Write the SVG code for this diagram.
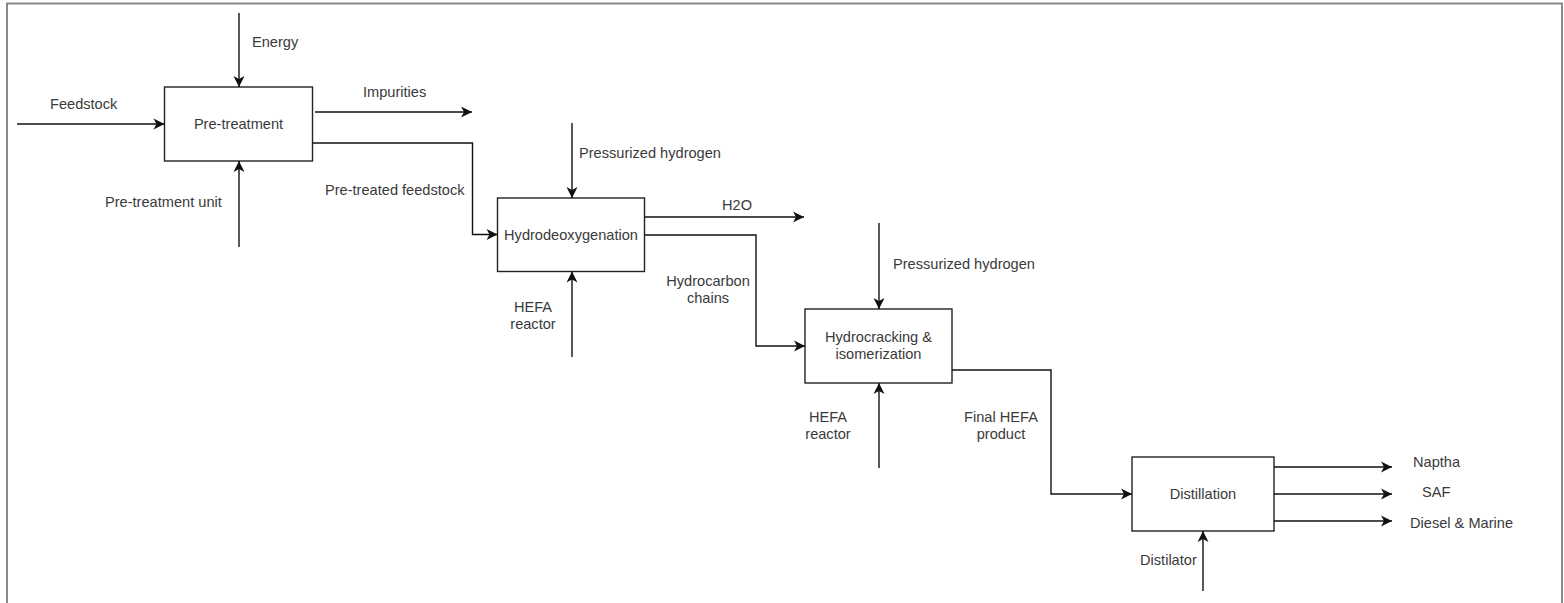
<svg xmlns="http://www.w3.org/2000/svg" width="1564" height="603" viewBox="0 0 1564 603">
  <style>
    .box { fill: #ffffff; stroke: #222222; stroke-width: 1.4; }
    .flow { fill: none; stroke: #111111; stroke-width: 1.4; marker-end: url(#arrow); }
    text { font-family: "Liberation Sans", Arial, Helvetica, sans-serif; font-size: 14.6px; fill: #3a3a3a; }
    .c { text-anchor: middle; }
  </style>
  <defs>
    <marker id="arrow" markerUnits="userSpaceOnUse" markerWidth="14" markerHeight="14" refX="11" refY="5.5" orient="auto" overflow="visible">
      <path d="M0,0 L11,5.5 L0,11 L3,5.5 Z" fill="#111111"/>
    </marker>
  </defs>

  <rect width="1564" height="603" fill="#ffffff"/>
  <!-- page frame -->
  <rect x="7" y="3.5" width="1555" height="610" fill="none" stroke="#8a8a8a" stroke-width="2"/>

  <!-- process steps -->
  <g id="pre-treatment">
    <rect class="box" x="164.5" y="87" width="148" height="74"/>
    <text class="c" x="238.5" y="128.5">Pre-treatment</text>
  </g>
  <g id="hydrodeoxygenation">
    <rect class="box" x="497.5" y="198" width="147" height="73.5"/>
    <text class="c" x="571" y="239.5">Hydrodeoxygenation</text>
  </g>
  <g id="hydrocracking">
    <rect class="box" x="805" y="309" width="147" height="74"/>
    <text class="c" x="878.5" y="342">Hydrocracking &amp;</text>
    <text class="c" x="878.5" y="359">isomerization</text>
  </g>
  <g id="distillation">
    <rect class="box" x="1132" y="457" width="142" height="74"/>
    <text class="c" x="1203" y="498.5">Distillation</text>
  </g>

  <!-- flows between and around the steps -->
  <g id="connectors">
    <path class="flow" d="M17,124 H164.5"/>
    <path class="flow" d="M239,13 V87"/>
    <path class="flow" d="M239,247 V161"/>
    <path class="flow" d="M315,112 H472"/>
    <path class="flow" d="M312.5,143 H472.5 V234.5 H497.5"/>

    <path class="flow" d="M572,123 V198"/>
    <path class="flow" d="M572,357 V271.5"/>
    <path class="flow" d="M644.5,217 H804"/>
    <path class="flow" d="M644.5,235 H756 V346 H805"/>

    <path class="flow" d="M879,223 V309"/>
    <path class="flow" d="M879,468 V383"/>
    <path class="flow" d="M952,370 H1051 V494 H1132"/>

    <path class="flow" d="M1203,591 V531"/>
    <path class="flow" d="M1274,467 H1392"/>
    <path class="flow" d="M1274,494 H1392"/>
    <path class="flow" d="M1274,521 H1392"/>
  </g>

  <!-- flow labels -->
  <g id="labels">
    <text x="50" y="109">Feedstock</text>
    <text x="252" y="47">Energy</text>
    <text x="363" y="97">Impurities</text>
    <text x="105" y="207">Pre-treatment unit</text>
    <text x="325" y="195">Pre-treated feedstock</text>

    <text x="579" y="158">Pressurized hydrogen</text>
    <text x="722" y="210">H2O</text>
    <text class="c" x="708" y="286">Hydrocarbon</text>
    <text class="c" x="708" y="303">chains</text>
    <text class="c" x="533" y="312">HEFA</text>
    <text class="c" x="533" y="329">reactor</text>

    <text x="893" y="269">Pressurized hydrogen</text>
    <text class="c" x="828" y="422">HEFA</text>
    <text class="c" x="828" y="439">reactor</text>
    <text class="c" x="1001" y="422">Final HEFA</text>
    <text class="c" x="1001" y="439">product</text>

    <text x="1140" y="565">Distilator</text>
    <text x="1413" y="467">Naptha</text>
    <text x="1422" y="497">SAF</text>
    <text x="1410" y="528">Diesel &amp; Marine</text>
  </g>
</svg>
